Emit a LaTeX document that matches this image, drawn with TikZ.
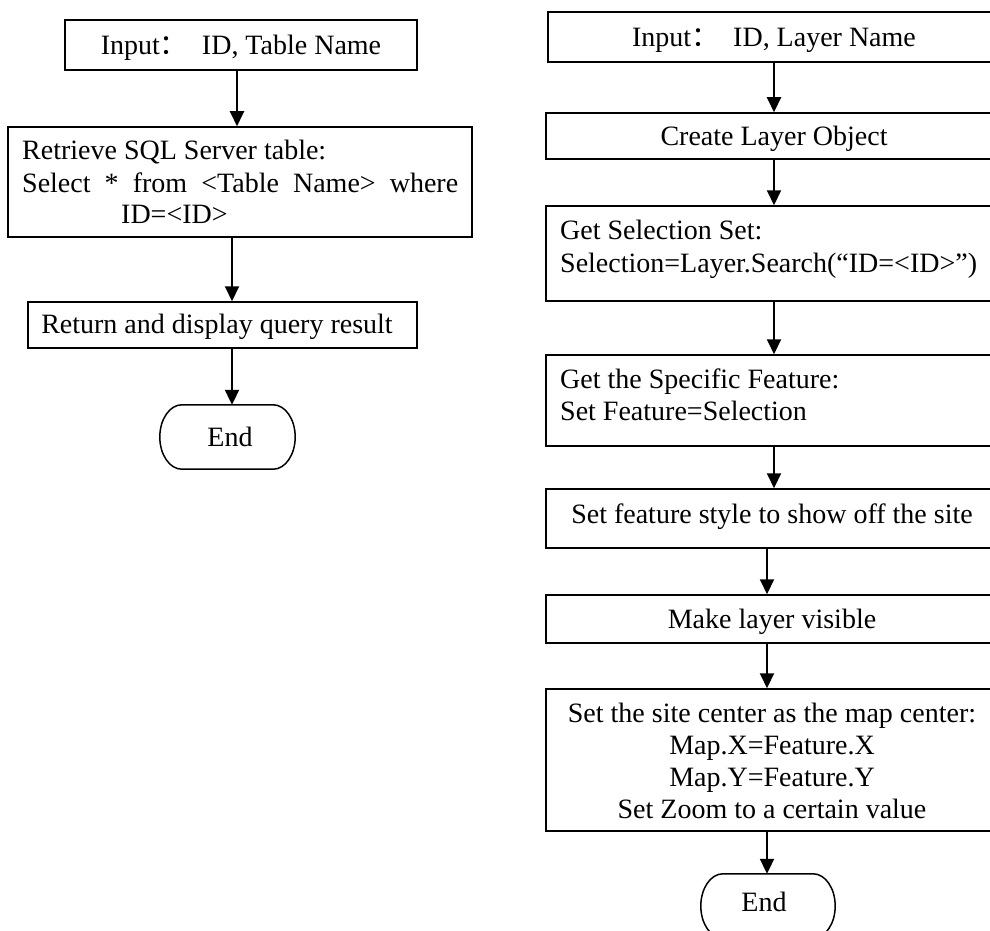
\documentclass[tikz,border=0pt]{standalone}
\usepackage{fontspec}
\setmainfont{Liberation Serif}
\newfontfamily\cjk{Noto Sans CJK SC}
\usetikzlibrary{arrows.meta}

% terminator outline: flat top and bottom, half-elliptic ends (rx=22pt, ry=32pt)
\newcommand\termoutline[1]{%
  \draw[line width=1.5pt] ([xshift=22pt]#1.north west) -- ([xshift=-22pt]#1.north east)
    .. controls ([xshift=-9.85pt]#1.north east) and ([yshift=17.67pt]#1.east) .. (#1.east)
    .. controls ([yshift=-17.67pt]#1.east) and ([xshift=-9.85pt]#1.south east) .. ([xshift=-22pt]#1.south east)
    -- ([xshift=22pt]#1.south west)
    .. controls ([xshift=9.85pt]#1.south west) and ([yshift=-17.67pt]#1.west) .. (#1.west)
    .. controls ([yshift=17.67pt]#1.west) and ([xshift=9.85pt]#1.north west) .. cycle;}

\begin{document}
\begin{tikzpicture}[x=1pt,y=-1pt,
  box/.style={draw, line width=1.5pt, rectangle, inner sep=0pt},
  term/.style={rectangle, inner sep=0pt},
  txt/.style={inner sep=0pt, font=\fontsize{28}{32}\selectfont},
  arr/.style={line width=2pt, -{Triangle[length=15pt,width=14pt]}}
]
\useasboundingbox (0,0) rectangle (990,931);
\clip (0,0) rectangle (990,931);

% ---------- left flow: query a SQL Server table ----------
\node[box, minimum width=352pt, minimum height=50pt] (L1) at (241,45) {};
\node[txt, anchor=base] (L1t) at (241,55) {Input{\cjk ：}\ \ ID, Table Name};

\node[box, minimum width=464pt, minimum height=110pt] (L2) at (240,182) {};
\node[txt, anchor=base west] (L2a) at (22,160) {Retrieve SQL Server table:};
\node[txt, anchor=base west] (L2b) at (22,192) {\makebox[436pt][s]{Select * from <Table Name> where}};
\node[txt, anchor=base west] (L2c) at (121,223) {ID=<ID>};

\node[box, minimum width=389pt, minimum height=46pt] (L3) at (222.5,325) {};
\node[txt, anchor=base] (L3t) at (217,333) {Return and display query result};

\node[term, minimum width=135pt, minimum height=64pt] (LE) at (227.5,437) {};
\termoutline{LE}
\node[txt, anchor=base] (LEt) at (230,446) {End};

\draw[arr] ([xshift=-4pt]L1.south) -- ([xshift=-3pt]L2.north);
\draw[arr] ([xshift=-8pt]L2.south) -- ([xshift=9.5pt]L3.north);
\draw[arr] ([xshift=9.5pt]L3.south) -- ([xshift=4.5pt]LE.north);

% ---------- right flow: locate a site on the map layer ----------
\node[box, minimum width=452pt, minimum height=50pt] (R1) at (774,37) {};
\node[txt, anchor=base] (R1t) at (774,47) {Input{\cjk ：}\ \ ID, Layer Name};

\node[box, minimum width=456pt, minimum height=46pt] (R2) at (774,136) {};
\node[txt, anchor=base] (R2t) at (774,146) {Create Layer Object};

\node[box, minimum width=456pt, minimum height=95pt] (R3) at (774,253.5) {};
\node[txt, anchor=base west] (R3a) at (560,239) {Get Selection Set:};
\node[txt, anchor=base west] (R3b) at (560,272) {Selection=Layer.Search(“ID=<ID>”)};

\node[box, minimum width=456pt, minimum height=91pt] (R4) at (774,400.5) {};
\node[txt, anchor=base west] (R4a) at (560,388) {Get the Specific Feature:};
\node[txt, anchor=base west] (R4b) at (560,420) {Set Feature=Selection};

\node[box, minimum width=456pt, minimum height=59pt] (R5) at (774,518.5) {};
\node[txt, anchor=base] (R5t) at (772,523) {Set feature style to show off the site};

\node[box, minimum width=456pt, minimum height=48pt] (R6) at (774,619) {};
\node[txt, anchor=base] (R6t) at (772,628) {Make layer visible};

\node[box, minimum width=456pt, minimum height=142pt] (R7) at (774,760) {};
\node[txt, anchor=base] (R7a) at (772,722) {Set the site center as the map center:};
\node[txt, anchor=base] (R7b) at (772,754) {Map.X=Feature.X};
\node[txt, anchor=base] (R7c) at (772,786) {Map.Y=Feature.Y};
\node[txt, anchor=base] (R7d) at (772,818) {Set Zoom to a certain value};

\node[term, minimum width=134pt, minimum height=64pt] (RE) at (768,906) {};
\termoutline{RE}
\node[txt, anchor=base] (REt) at (764,911) {End};

\draw[arr] (R1.south) -- (R2.north);
\draw[arr] (R2.south) -- (R3.north);
\draw[arr] (R3.south) -- (R4.north);
\draw[arr] (R4.south) -- (R5.north);
\draw[arr] ([xshift=-7pt]R5.south) -- ([xshift=-7pt]R6.north);
\draw[arr] ([xshift=-7pt]R6.south) -- ([xshift=-7pt]R7.north);
\draw[arr] ([xshift=-7pt]R7.south) -- ([xshift=-1pt]RE.north);
\end{tikzpicture}
\end{document}
